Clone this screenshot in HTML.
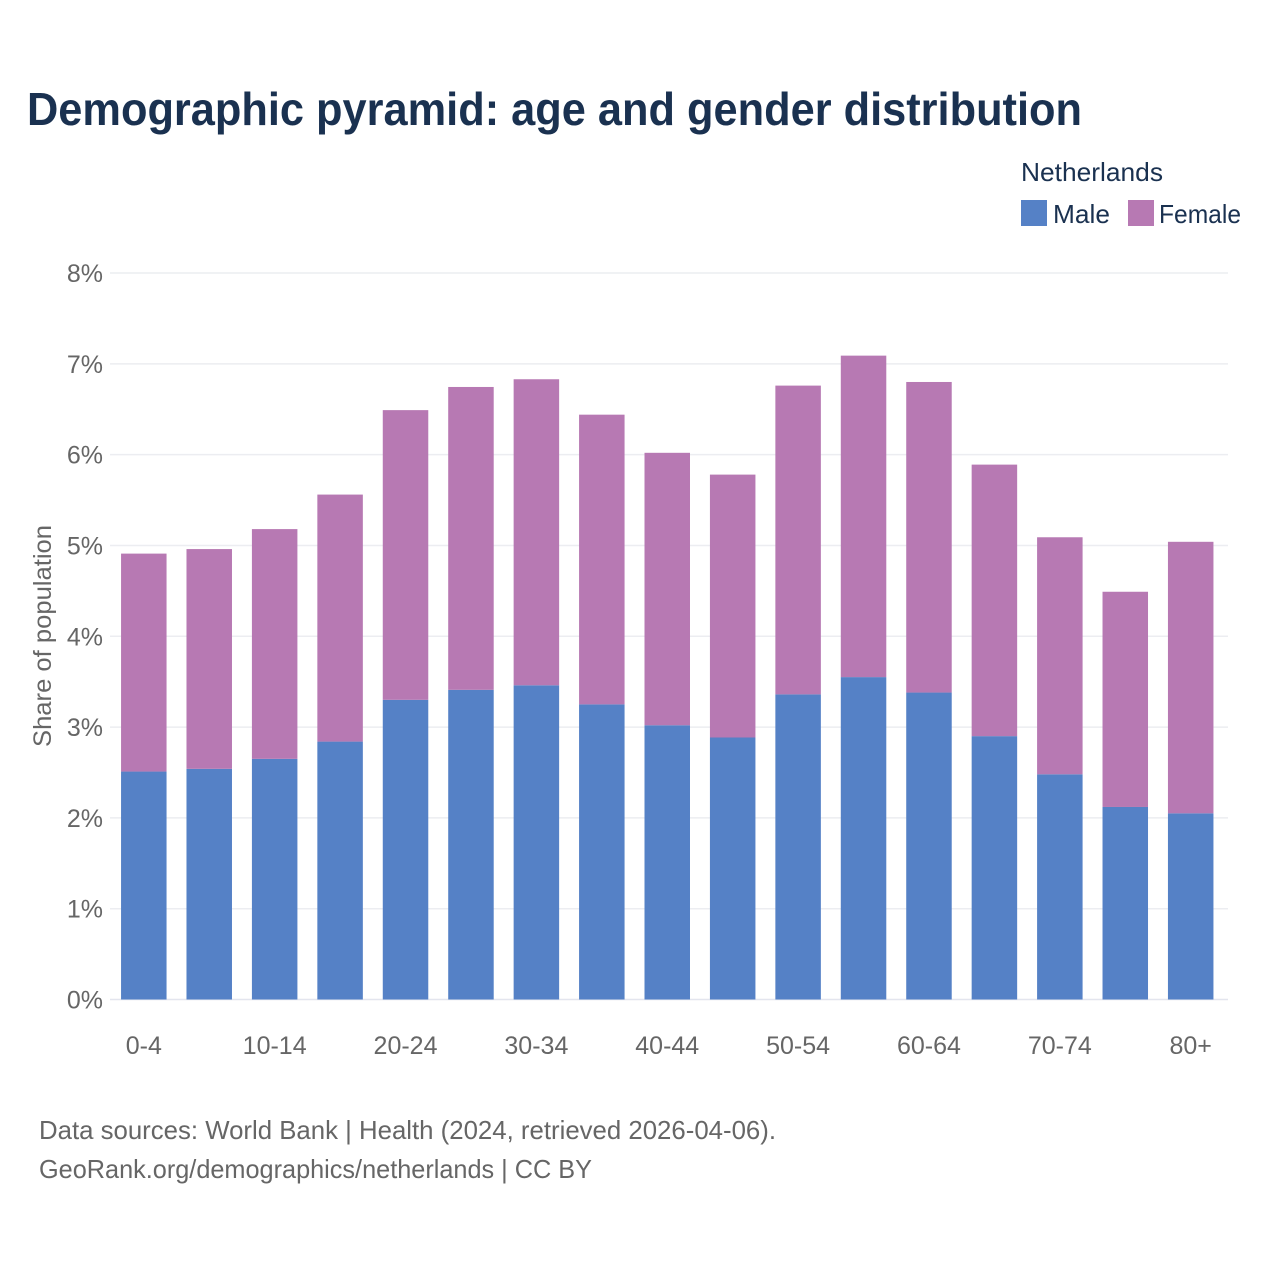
<!DOCTYPE html>
<html lang="en">
<head>
<meta charset="utf-8">
<title>Demographic pyramid: age and gender distribution</title>
<style>
html,body{margin:0;padding:0;background:#fff;}
svg{display:block;font-family:"Liberation Sans",sans-serif;}
</style>
</head>
<body>
<svg id="chart" width="1280" height="1280" viewBox="0 0 1280 1280">
  <rect width="1280" height="1280" fill="#ffffff"/>
  <text x="27" y="125" font-size="46" font-weight="700" fill="#1a3150" textLength="1055" lengthAdjust="spacingAndGlyphs">Demographic pyramid: age and gender distribution</text>
  <text x="1021" y="181" font-size="26" fill="#1a3150" textLength="142" lengthAdjust="spacingAndGlyphs">Netherlands</text>
  <rect x="1021" y="200" width="26" height="26" fill="#5581c6"/>
  <text x="1053" y="223" font-size="26" fill="#1a3150" textLength="57" lengthAdjust="spacingAndGlyphs">Male</text>
  <rect x="1128" y="200" width="26" height="26" fill="#b779b3"/>
  <text x="1159" y="223" font-size="26" fill="#1a3150" textLength="82" lengthAdjust="spacingAndGlyphs">Female</text>
  <g id="grid"></g>
  <g id="bars"></g>
  <g id="xlabels"></g>
  <text transform="translate(51 636) rotate(-90)" text-anchor="middle" font-size="25" fill="#666666" textLength="222" lengthAdjust="spacingAndGlyphs">Share of population</text>
  <text x="39" y="1139" font-size="26" fill="#666666" textLength="737" lengthAdjust="spacingAndGlyphs">Data sources: World Bank | Health (2024, retrieved 2026-04-06).</text>
  <text x="39" y="1178" font-size="26" fill="#666666" textLength="553" lengthAdjust="spacingAndGlyphs">GeoRank.org/demographics/netherlands | CC BY</text>
</svg>
<script>
const categories = ["0-4","5-9","10-14","15-19","20-24","25-29","30-34","35-39","40-44","45-49","50-54","55-59","60-64","65-69","70-74","75-79","80+"];
const maleValues = [2.51,2.54,2.65,2.84,3.30,3.41,3.46,3.25,3.02,2.885,3.36,3.55,3.38,2.90,2.48,2.12,2.05];
const femaleValues = [2.40,2.42,2.53,2.72,3.19,3.335,3.37,3.19,3.00,2.895,3.40,3.54,3.42,2.99,2.61,2.37,2.99];
const yTicks = [0,1,2,3,4,5,6,7,8];
const xLabelEvery = 2;

const NS = "http://www.w3.org/2000/svg";
const plotLeft = 110, plotRight = 1228, yZero = 999.5, yTop = 273;
const barWidth = 45.5, firstCenter = 143.8, lastCenter = 1190.7;
const yScale = v => yZero - (v / yTicks[yTicks.length - 1]) * (yZero - yTop);
const xScale = i => firstCenter + i * (lastCenter - firstCenter) / (categories.length - 1);

function make(tag, attrs, parent, text) {
  const el = document.createElementNS(NS, tag);
  for (const k in attrs) el.setAttribute(k, attrs[k]);
  if (text !== undefined) el.textContent = text;
  parent.appendChild(el);
  return el;
}

const grid = document.getElementById("grid");
yTicks.forEach(t => {
  const y = yScale(t);
  const line = make("line", {x1: plotLeft, x2: plotRight, y1: y, y2: y, stroke: t === 0 ? "#e3e5ee" : "#ecedf1", "stroke-width": 1.5}, grid);
  
  
  const label = make("text", {x: 103, y: y + 9, "text-anchor": "end", "font-size": 25, fill: "#666666"}, grid, t + "%");
  
  
});

const bars = document.getElementById("bars");
const xlabels = document.getElementById("xlabels");
categories.forEach((c, i) => {
  const x = xScale(i) - barWidth / 2;
  const male = maleValues[i], female = femaleValues[i];
  const yMale = yScale(male), yTotal = yScale(male + female);
  const mBar = make("rect", {x: x, y: yMale, width: barWidth, height: yZero - yMale, fill: "#5581c6"}, bars);
  
  
  const fBar = make("rect", {x: x, y: yTotal, width: barWidth, height: yMale - yTotal, fill: "#b779b3"}, bars);
  
  
  if (i % xLabelEvery === 0) {
    const lab = make("text", {x: xScale(i), y: 1054, "text-anchor": "middle", "font-size": 25, fill: "#666666"}, xlabels, c);
    
    
  }
});
</script>
</body>
</html>
